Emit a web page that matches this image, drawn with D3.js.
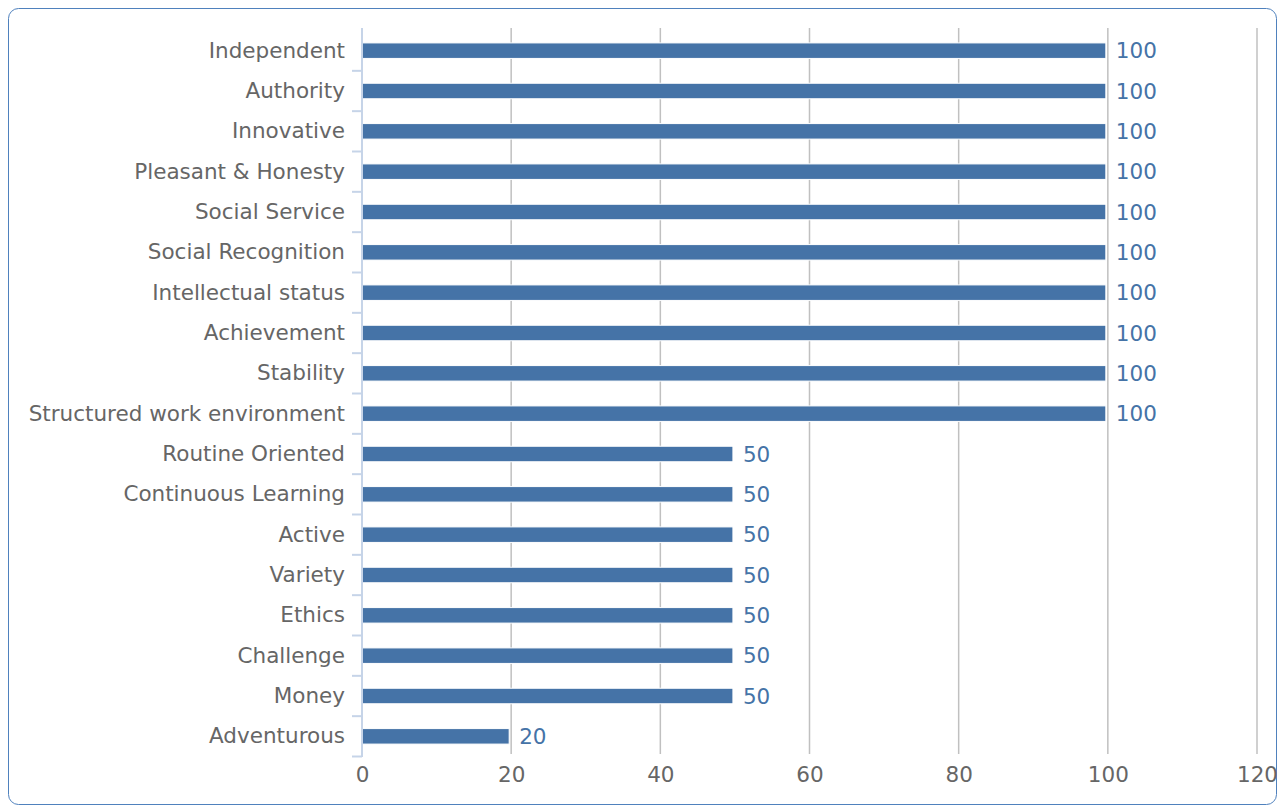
<!DOCTYPE html>
<html>
<head>
<meta charset="utf-8">
<script src="https://cdn.jsdelivr.net/npm/d3@7"></script>
<style>
  body { margin: 0; background: #fff; }
  svg { display: block; font-family: "DejaVu Sans", sans-serif; }
</style>
</head>
<body>
<div id="chart"></div>
<script>
const categories = [
  'Independent', 'Authority', 'Innovative', 'Pleasant & Honesty', 'Social Service',
  'Social Recognition', 'Intellectual status', 'Achievement', 'Stability',
  'Structured work environment', 'Routine Oriented', 'Continuous Learning', 'Active',
  'Variety', 'Ethics', 'Challenge', 'Money', 'Adventurous'
];
const scores = [100, 100, 100, 100, 100, 100, 100, 100, 100, 100, 50, 50, 50, 50, 50, 50, 50, 20];
const xTicks = [0, 20, 40, 60, 80, 100, 120];

const width = 1283, height = 808;
const barColor = '#4573a7';
const fontSize = 21.5;

const svg = d3.select('#chart').append('svg')
  .attr('width', width)
  .attr('height', height);

// frame
svg.append('rect')
  .attr('x', 8.5).attr('y', 8.5)
  .attr('width', 1268).attr('height', 796)
  .attr('rx', 10)
  .attr('fill', '#fff')
  .attr('stroke', '#4f81bd')
  .attr('stroke-width', 1);

const x = d3.scaleLinear().domain([0, 120]).range([362, 1257]);
const y = d3.scaleBand().domain(categories).range([30.5, 756.5]);
const barH = 15.5;
const barEnd = v => x(v) - 2;

// grid
svg.append('g').selectAll('line')
  .data(xTicks.slice(1))
  .enter().append('line')
  .attr('x1', d => x(d)).attr('x2', d => x(d))
  .attr('y1', 28).attr('y2', 754)
  .attr('stroke', '#c0c0c0')
  .attr('stroke-width', 1.5);

// x axis labels
const xAxis = d3.axisBottom(x).tickValues(xTicks).tickSize(0).tickPadding(0);
const xg = svg.append('g')
  .attr('transform', 'translate(0,767)')
  .call(xAxis);
xg.select('.domain').remove();
xg.selectAll('text')
  .attr('font-size', fontSize)
  .attr('font-family', '"DejaVu Sans", sans-serif')
  .attr('fill', '#666');

// bars
svg.append('g').selectAll('rect')
  .data(categories)
  .enter().append('rect')
  .attr('x', x(0))
  .attr('y', d => y(d) + y.bandwidth() / 2 - barH / 2)
  .attr('width', (d, i) => barEnd(scores[i]) - x(0))
  .attr('height', barH)
  .attr('fill', barColor)
  .attr('stroke', '#fff')
  .attr('stroke-width', 1);

// value labels
svg.append('g').selectAll('text')
  .data(categories)
  .enter().append('text')
  .attr('x', (d, i) => barEnd(scores[i]) + 10)
  .attr('y', d => y(d) + y.bandwidth() / 2)
  .attr('dy', '0.35em')
  .attr('font-size', fontSize)
  .attr('fill', barColor)
  .text((d, i) => scores[i]);

// y axis: line, category boundary ticks, labels
const yAxis = d3.axisLeft(y).tickSize(0).tickPadding(17);
const yg = svg.append('g')
  .attr('transform', 'translate(362,0)')
  .call(yAxis);
yg.select('.domain').remove();
yg.selectAll('text')
  .attr('font-size', fontSize)
  .attr('font-family', '"DejaVu Sans", sans-serif')
  .attr('fill', '#666');

const axisColor = '#c6d4e8';
svg.append('line')
  .attr('x1', 362).attr('x2', 362)
  .attr('y1', 28).attr('y2', 757)
  .attr('stroke', axisColor)
  .attr('stroke-width', 2);

const bounds = categories.map(d => y(d) + y.bandwidth());
svg.append('g').selectAll('line')
  .data(bounds)
  .enter().append('line')
  .attr('x1', 352).attr('x2', 362)
  .attr('y1', d => d).attr('y2', d => d)
  .attr('stroke', axisColor)
  .attr('stroke-width', 2);
</script>
</body>
</html>
